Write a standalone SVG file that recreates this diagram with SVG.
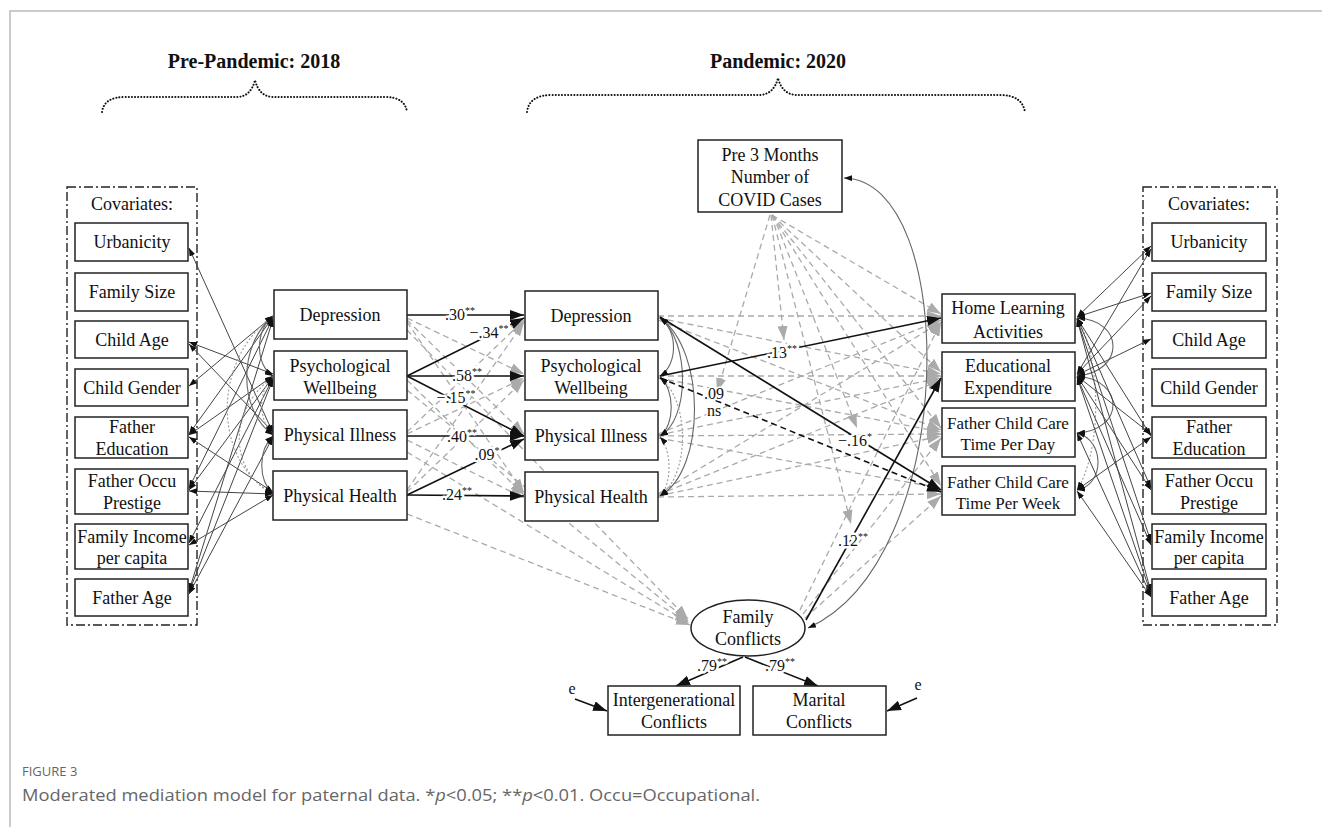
<svg xmlns="http://www.w3.org/2000/svg" width="1322" height="827" viewBox="0 0 1322 827">
<defs>
<style>
.box{fill:#fff;stroke:#222;stroke-width:1.5}
.t{font-family:"Liberation Serif","Times New Roman",serif;font-size:18px;fill:#111;text-anchor:middle}
.t17{font-size:17px}
.ttl{font-family:"Liberation Serif","Times New Roman",serif;font-size:20px;font-weight:bold;fill:#111;text-anchor:middle}
.lab{font-family:"Liberation Serif","Times New Roman",serif;font-size:16px;fill:#111;text-anchor:middle;paint-order:stroke;stroke:#fff;stroke-width:5px;stroke-linejoin:round}
.lab2{font-family:"Liberation Serif","Times New Roman",serif;font-size:16px;fill:#111;text-anchor:middle;paint-order:stroke;stroke:#fff;stroke-width:3px;stroke-linejoin:round}
.sup{font-size:10px}
.sig{stroke:#111;stroke-width:1.6;fill:none;marker-end:url(#ab)}
.sigd{stroke:#111;stroke-width:1.6;fill:none;stroke-dasharray:6 4;marker-end:url(#ab)}
.ns{stroke:#aaa;stroke-width:1.3;fill:none;stroke-dasharray:6 4;marker-end:url(#ag)}
.cov{stroke:#444;stroke-width:1;fill:none;marker-start:url(#as);marker-end:url(#as)}
.arc{stroke:#666;stroke-width:1.1;fill:none;marker-start:url(#as);marker-end:url(#as)}
.dot{stroke:#999;stroke-width:1.1;fill:none;stroke-dasharray:2 2;marker-start:url(#as);marker-end:url(#as)}
.brace{stroke:#111;stroke-width:2;fill:none;stroke-dasharray:0.1 3;stroke-linecap:round}
.cvframe{fill:none;stroke:#222;stroke-width:1.4;stroke-dasharray:9 3 2 3}
.cap{font-family:"Open Sans","Noto Sans","Liberation Sans",sans-serif;fill:#666}
</style>
<marker id="ab" viewBox="0 0 14 10" refX="14" refY="5" markerWidth="14" markerHeight="10" markerUnits="userSpaceOnUse" orient="auto"><path d="M0,0 L14,5 L0,10 z" fill="#111"/></marker>
<marker id="ag" viewBox="0 0 14 10" refX="14" refY="5" markerWidth="14" markerHeight="10" markerUnits="userSpaceOnUse" orient="auto"><path d="M0,0 L14,5 L0,10 z" fill="#aaa"/></marker>
<marker id="as" viewBox="0 0 8 6" refX="8" refY="3" markerWidth="8" markerHeight="6" markerUnits="userSpaceOnUse" orient="auto-start-reverse"><path d="M0,0 L8,3 L0,6 z" fill="#111"/></marker>
</defs>
<rect width="1322" height="827" fill="#fff"/>
<path d="M10 827 L10 11 L1322 11" fill="none" stroke="#bbb" stroke-width="1.5"/>

<g id="titles">
<text class="ttl" x="254" y="68">Pre-Pandemic:  2018</text>
<text class="ttl" x="778" y="68">Pandemic:  2020</text>
<path class="brace" d="M102 112 Q104 97 125 97 L238 97 Q251 96 255 80 Q259 96 272 97 L385 97 Q405 97 407 112"/>
<path class="brace" d="M527 112 Q529 95 552 95 L760 95 Q774 94 778 78 Q782 94 796 95 L1000 95 Q1022 95 1025 112"/>
</g>

<g id="covariate-frames">
<rect class="cvframe" x="67" y="187" width="130" height="438"/>
<text class="t" x="132" y="210">Covariates:</text>
<rect class="cvframe" x="1143" y="187" width="134" height="438"/>
<text class="t" x="1209" y="210">Covariates:</text>
</g>

<g id="connectors">
<line class="ns" x1="407" y1="330" x2="688" y2="619"/>
<line class="ns" x1="407" y1="390" x2="688" y2="621"/>
<line class="ns" x1="407" y1="452" x2="689" y2="623"/>
<line class="ns" x1="407" y1="514" x2="690" y2="625"/>
<line class="ns" x1="407" y1="318" x2="524" y2="374"/>
<line class="ns" x1="407" y1="320" x2="524" y2="434"/>
<line class="ns" x1="407" y1="322" x2="524" y2="493"/>
<line class="ns" x1="407" y1="380" x2="524" y2="495"/>
<line class="ns" x1="407" y1="432" x2="524" y2="320"/>
<line class="ns" x1="407" y1="434" x2="524" y2="378"/>
<line class="ns" x1="407" y1="440" x2="524" y2="498"/>
<line class="ns" x1="407" y1="490" x2="524" y2="322"/>
<line class="ns" x1="407" y1="492" x2="524" y2="380"/>
<line class="ns" x1="772" y1="215" x2="941" y2="314"/>
<line class="ns" x1="772" y1="215" x2="941" y2="372"/>
<line class="ns" x1="772" y1="215" x2="941" y2="428"/>
<line class="ns" x1="772" y1="215" x2="941" y2="486"/>
<line class="ns" x1="770" y1="215" x2="717" y2="392"/>
<line class="ns" x1="771" y1="215" x2="784" y2="340"/>
<line class="ns" x1="773" y1="215" x2="857" y2="428"/>
<line class="ns" x1="772" y1="215" x2="851" y2="524"/>
<line class="ns" x1="658" y1="316" x2="941" y2="316"/>
<line class="ns" x1="658" y1="318" x2="941" y2="374"/>
<line class="ns" x1="658" y1="320" x2="941" y2="430"/>
<line class="ns" x1="658" y1="376" x2="941" y2="376"/>
<line class="ns" x1="658" y1="378" x2="941" y2="432"/>
<line class="ns" x1="658" y1="434" x2="941" y2="320"/>
<line class="ns" x1="658" y1="435" x2="941" y2="378"/>
<line class="ns" x1="658" y1="436" x2="941" y2="434"/>
<line class="ns" x1="658" y1="438" x2="941" y2="488"/>
<line class="ns" x1="658" y1="494" x2="941" y2="322"/>
<line class="ns" x1="658" y1="495" x2="941" y2="380"/>
<line class="ns" x1="658" y1="496" x2="941" y2="436"/>
<line class="ns" x1="658" y1="497" x2="941" y2="494"/>
<line class="ns" x1="800" y1="610" x2="941" y2="322"/>
<line class="ns" x1="803" y1="614" x2="941" y2="438"/>
<line class="ns" x1="805" y1="618" x2="941" y2="496"/>

<line class="cov" x1="189" y1="248" x2="273" y2="433"/>
<line class="cov" x1="189" y1="342" x2="273" y2="374"/>
<line class="cov" x1="189" y1="344" x2="273" y2="432"/>
<line class="cov" x1="189" y1="386" x2="273" y2="316"/>
<line class="cov" x1="189" y1="434" x2="273" y2="317"/>
<line class="cov" x1="189" y1="435" x2="273" y2="376"/>
<line class="cov" x1="189" y1="437" x2="273" y2="492"/>
<line class="cov" x1="189" y1="488" x2="273" y2="318"/>
<line class="cov" x1="189" y1="490" x2="273" y2="377"/>
<line class="cov" x1="189" y1="491" x2="273" y2="494"/>
<line class="cov" x1="189" y1="543" x2="273" y2="378"/>
<line class="cov" x1="189" y1="545" x2="273" y2="495"/>
<line class="cov" x1="189" y1="591" x2="273" y2="319"/>
<line class="cov" x1="189" y1="592" x2="273" y2="379"/>
<line class="cov" x1="189" y1="594" x2="273" y2="437"/>
<path class="arc" d="M273 316 C255 330 255 365 273 376"/>
<path class="arc" d="M273 316 C238 345 238 410 273 435"/>
<path class="dot" d="M273 316 C212 360 212 460 273 494"/>
<path class="dot" d="M273 377 C258 390 258 420 273 435"/>
<path class="dot" d="M273 377 C228 410 228 470 273 494"/>
<path class="arc" d="M273 436 C258 450 258 480 273 494"/>
<path class="arc" d="M660 318 C678 330 678 365 660 376"/>
<path class="arc" d="M660 318 C690 340 690 420 660 436"/>
<path class="arc" d="M660 318 C706 350 706 470 660 496"/>
<path class="arc" d="M660 377 C675 390 675 425 660 436"/>
<path class="dot" d="M660 378 C690 400 690 475 660 496"/>
<path class="dot" d="M660 437 C672 450 672 485 660 496"/>
<path class="arc" d="M1077 318 C1125 320 1125 372 1077 376"/>
<path class="arc" d="M1077 376 C1125 380 1125 430 1077 433"/>
<path class="arc" d="M1077 433 C1105 440 1105 485 1077 490"/>
<path class="dot" d="M1077 318 C1102 360 1102 450 1077 490"/>
<line class="cov" x1="1077" y1="317" x2="1151" y2="246"/>
<line class="cov" x1="1077" y1="317" x2="1151" y2="293"/>
<line class="cov" x1="1077" y1="318" x2="1151" y2="436"/>
<line class="cov" x1="1077" y1="318" x2="1151" y2="488"/>
<line class="cov" x1="1077" y1="319" x2="1151" y2="542"/>
<line class="cov" x1="1077" y1="319" x2="1151" y2="592"/>
<line class="cov" x1="1077" y1="374" x2="1151" y2="249"/>
<line class="cov" x1="1077" y1="374" x2="1151" y2="296"/>
<line class="cov" x1="1077" y1="375" x2="1151" y2="339"/>
<line class="cov" x1="1077" y1="376" x2="1151" y2="434"/>
<line class="cov" x1="1077" y1="376" x2="1151" y2="490"/>
<line class="cov" x1="1077" y1="377" x2="1151" y2="545"/>
<line class="cov" x1="1077" y1="377" x2="1151" y2="594"/>
<line class="cov" x1="1077" y1="433" x2="1151" y2="596"/>
<line class="cov" x1="1077" y1="490" x2="1151" y2="437"/>
<line class="cov" x1="1077" y1="491" x2="1151" y2="597"/>
<path class="arc" d="M844 178 C960 180 960 560 808 628"/>

<line class="sig" x1="407" y1="315" x2="524" y2="315"/>
<line class="sig" x1="407" y1="376" x2="524" y2="318"/>
<line class="sig" x1="407" y1="376" x2="524" y2="376"/>
<line class="sig" x1="407" y1="376" x2="524" y2="436"/>
<line class="sig" x1="407" y1="436" x2="524" y2="436"/>
<line class="sig" x1="407" y1="495" x2="524" y2="439"/>
<line class="sig" x1="407" y1="495" x2="524" y2="496"/>
<line class="sig" x1="660" y1="376" x2="941" y2="318"/>
<line class="sig" x1="660" y1="317" x2="941" y2="490"/>
<line class="sigd" x1="660" y1="378" x2="941" y2="492"/>
<line class="sig" x1="806" y1="620" x2="941" y2="378"/>
<line class="sig" x1="743" y1="657" x2="676" y2="686"/>
<line class="sig" x1="745" y1="657" x2="818" y2="686"/>
<line class="sig" x1="575" y1="699" x2="607" y2="711"/>
<line class="sig" x1="917" y1="698" x2="887" y2="711"/>
</g>

<g id="labels">
<text class="lab" x="460" y="320">.30<tspan class="sup" dy="-6">**</tspan></text>
<text class="lab" x="489" y="338">−.34<tspan class="sup" dy="-6">**</tspan></text>
<text class="lab" x="467" y="381">.58<tspan class="sup" dy="-6">**</tspan></text>
<text class="lab" x="456" y="403">−.15<tspan class="sup" dy="-6">**</tspan></text>
<text class="lab" x="462" y="442">.40<tspan class="sup" dy="-6">**</tspan></text>
<text class="lab" x="487" y="460">.09<tspan class="sup" dy="-6">*</tspan></text>
<text class="lab" x="457" y="500">.24<tspan class="sup" dy="-6">**</tspan></text>
<text class="lab" x="782" y="358">.13<tspan class="sup" dy="-6">**</tspan></text>
<text class="lab2" x="714" y="399">.09</text>
<text class="lab2" x="714" y="416">ns</text>
<text class="lab" x="855" y="446">−.16<tspan class="sup" dy="-6">*</tspan></text>
<text class="lab" x="853" y="546">.12<tspan class="sup" dy="-6">**</tspan></text>
<text class="lab" x="712" y="671">.79<tspan class="sup" dy="-6">**</tspan></text>
<text class="lab" x="780" y="671">.79<tspan class="sup" dy="-6">**</tspan></text>
<text class="lab" x="572" y="694">e</text>
<text class="lab" x="918" y="690">e</text>
</g>

<g id="left-covariates">
<g id="lc-urbanicity"><rect class="box" x="75" y="223" width="113" height="38"/><text class="t" x="132" y="248">Urbanicity</text></g>
<g id="lc-family-size"><rect class="box" x="75" y="273" width="113" height="38"/><text class="t" x="132" y="298">Family  Size</text></g>
<g id="lc-child-age"><rect class="box" x="75" y="321" width="113" height="37"/><text class="t" x="132" y="346">Child Age</text></g>
<g id="lc-child-gender"><rect class="box" x="75" y="369" width="113" height="37"/><text class="t" x="132" y="394">Child Gender</text></g>
<g id="lc-father-education"><rect class="box" x="75" y="417" width="113" height="41"/><text class="t" x="132" y="433">Father</text><text class="t" x="132" y="455">Education</text></g>
<g id="lc-father-occu"><rect class="box" x="75" y="469" width="113" height="45"/><text class="t" x="132" y="487">Father  Occu</text><text class="t" x="132" y="509">Prestige</text></g>
<g id="lc-family-income"><rect class="box" x="75" y="524" width="113" height="45"/><text class="t" x="132" y="543">Family Income</text><text class="t" x="132" y="564">per capita</text></g>
<g id="lc-father-age"><rect class="box" x="75" y="579" width="113" height="37"/><text class="t" x="132" y="604">Father Age</text></g>
</g>

<g id="pre-pandemic">
<g id="pre-depression"><rect class="box" x="274" y="290" width="133" height="49"/><text class="t" x="340" y="321">Depression</text></g>
<g id="pre-wellbeing"><rect class="box" x="274" y="351" width="133" height="49"/><text class="t" x="340" y="372">Psychological</text><text class="t" x="340" y="394">Wellbeing</text></g>
<g id="pre-illness"><rect class="box" x="273" y="410" width="134" height="49"/><text class="t" x="340" y="441">Physical  Illness</text></g>
<g id="pre-health"><rect class="box" x="273" y="471" width="134" height="49"/><text class="t" x="340" y="502">Physical  Health</text></g>
</g>

<g id="pandemic-mediators">
<g id="mid-depression"><rect class="box" x="525" y="291" width="133" height="49"/><text class="t" x="591" y="322">Depression</text></g>
<g id="mid-wellbeing"><rect class="box" x="525" y="351" width="133" height="49"/><text class="t" x="591" y="372">Psychological</text><text class="t" x="591" y="394">Wellbeing</text></g>
<g id="mid-illness"><rect class="box" x="525" y="411" width="133" height="49"/><text class="t" x="591" y="442">Physical  Illness</text></g>
<g id="mid-health"><rect class="box" x="525" y="472" width="133" height="49"/><text class="t" x="591" y="503">Physical  Health</text></g>
</g>

<g id="pre3-covid"><rect class="box" x="698" y="140" width="144" height="72"/><text class="t" x="770" y="161">Pre 3 Months</text><text class="t" x="770" y="183">Number of</text><text class="t" x="770" y="206">COVID Cases</text></g>

<g id="outcomes">
<g id="home-learning"><rect class="box" x="942" y="294" width="133" height="49"/><text class="t" x="1008" y="314">Home  Learning</text><text class="t" x="1008" y="338">Activities</text></g>
<g id="edu-expenditure"><rect class="box" x="942" y="352" width="133" height="49"/><text class="t" x="1008" y="372">Educational</text><text class="t" x="1008" y="394">Expenditure</text></g>
<g id="care-day"><rect class="box" x="942" y="408" width="133" height="49"/><text class="t t17" x="1008" y="429">Father Child Care</text><text class="t t17" x="1008" y="450">Time  Per Day</text></g>
<g id="care-week"><rect class="box" x="942" y="466" width="133" height="49"/><text class="t t17" x="1008" y="488">Father Child Care</text><text class="t t17" x="1008" y="509">Time  Per  Week</text></g>
</g>

<g id="right-covariates">
<g id="rc-urbanicity"><rect class="box" x="1152" y="223" width="114" height="38"/><text class="t" x="1209" y="248">Urbanicity</text></g>
<g id="rc-family-size"><rect class="box" x="1152" y="273" width="114" height="38"/><text class="t" x="1209" y="298">Family  Size</text></g>
<g id="rc-child-age"><rect class="box" x="1152" y="321" width="114" height="37"/><text class="t" x="1209" y="346">Child Age</text></g>
<g id="rc-child-gender"><rect class="box" x="1152" y="369" width="114" height="37"/><text class="t" x="1209" y="394">Child Gender</text></g>
<g id="rc-father-education"><rect class="box" x="1152" y="417" width="114" height="41"/><text class="t" x="1209" y="433">Father</text><text class="t" x="1209" y="455">Education</text></g>
<g id="rc-father-occu"><rect class="box" x="1152" y="469" width="114" height="45"/><text class="t" x="1209" y="487">Father  Occu</text><text class="t" x="1209" y="509">Prestige</text></g>
<g id="rc-family-income"><rect class="box" x="1152" y="524" width="114" height="45"/><text class="t" x="1209" y="543">Family Income</text><text class="t" x="1209" y="564">per capita</text></g>
<g id="rc-father-age"><rect class="box" x="1152" y="579" width="114" height="37"/><text class="t" x="1209" y="604">Father Age</text></g>
</g>

<g id="family-conflicts"><ellipse cx="748" cy="628" rx="57" ry="28" fill="#fff" stroke="#222" stroke-width="1.5"/><text class="t" x="748" y="623">Family</text><text class="t" x="748" y="645">Conflicts</text></g>
<g id="intergenerational"><rect class="box" x="608" y="686" width="132" height="49"/><text class="t" x="674" y="706">Intergenerational</text><text class="t" x="674" y="728">Conflicts</text></g>
<g id="marital"><rect class="box" x="753" y="686" width="133" height="49"/><text class="t" x="819" y="706">Marital</text><text class="t" x="819" y="728">Conflicts</text></g>

<g id="caption">
<text class="cap" x="22" y="776" font-size="13">FIGURE 3</text>
<text class="cap" x="22" y="801" font-size="17" textLength="738" lengthAdjust="spacingAndGlyphs">Moderated mediation model for paternal data. *<tspan font-style="italic">p</tspan>&lt;0.05; **<tspan font-style="italic">p</tspan>&lt;0.01. Occu=Occupational.</text>
</g>
</svg>
